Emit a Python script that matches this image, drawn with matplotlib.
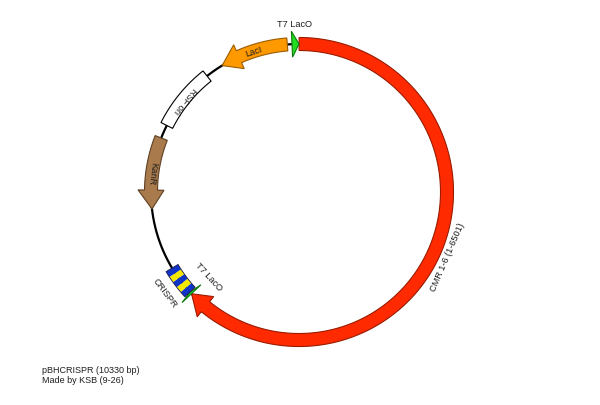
import numpy as np
import matplotlib
matplotlib.use("Agg")
import matplotlib.pyplot as plt
from matplotlib.patches import Polygon

plt.rcParams['font.family'] = ['Liberation Sans', 'DejaVu Sans']

# ---------------- data ----------------
plasmid_name = "pBHCRISPR"
plasmid_len = 10330
credit = "Made by KSB (9-26)"

feat_names  = ["CMR 1-6 (1-6501)", "T7 LacO", "CRISPR", "KanR", "RSF ori", "LacI", "T7 LacO"]
feat_start  = [1,    6502, 6527, 7558, 8514, 9432, 10252]
feat_end    = [6501, 6526, 6860, 8362, 9228, 10200, 10330]
feat_strand = [1, 1, 0, -1, 0, -1, 1]
feat_kind   = ["arrow", "arrow", "repeat", "arrow", "box", "arrow", "arrow"]
crispr_units = ["spacer", "repeat", "spacer", "repeat", "spacer"]

# ---------------- styles ----------------
feat_fill = ["#FF2A00", "#22DD22", None, "#A97A4C", "#FFFFFF", "#FF9900", "#22DD22"]
feat_edge = ["#9A1A00", "#0E7A0E", "#222222", "#5E4024", "#000000", "#9A5C00", "#0E7A0E"]
unit_color = {"spacer": "#1034C8", "repeat": "#F5E800"}
label_r   = [162, 123, 168, 148, 147, 148, 169]
label_flip = [False, False, False, False, False, True, True]

R_MID = 148.0
HALF_W = 6.5
HEAD_HW = 13.0
HEAD_LEN = 19.0

fig = plt.figure(figsize=(6.0, 4.06), dpi=100)
cx, cy_top = 299.0, 193.0
cy = 406 - cy_top
half = 180.0
ax = fig.add_axes([(cx - half) / 600, (cy - half) / 406, 2 * half / 600, 2 * half / 406],
                  projection='polar')
ax.set_theta_zero_location('N')
ax.set_theta_direction(-1)
ax.set_rlim(0, half)
ax.axis('off')


def bp2t(bp):
    return bp / plasmid_len * 2 * np.pi


def arc(t0, t1, r):
    n = max(2, int(abs(t1 - t0) / 0.004) + 2)
    th = np.linspace(t0, t1, n)
    return [(t, r) for t in th]


# backbone
tt = np.linspace(0, 2 * np.pi, 720)
ax.plot(tt, np.full_like(tt, R_MID), color='black', lw=1.6, zorder=1)

dth = HEAD_LEN / R_MID
for i, kind in enumerate(feat_kind):
    t0, t1 = bp2t(feat_start[i]), bp2t(feat_end[i])
    if kind == "arrow":
        if feat_strand[i] > 0:
            tb = t1 - dth
            if tb <= t0:
                verts = [(t0, R_MID + HEAD_HW), (t1, R_MID), (t0, R_MID - HEAD_HW)]
            else:
                verts = (arc(t0, tb, R_MID + HALF_W) +
                         [(tb, R_MID + HEAD_HW), (t1, R_MID), (tb, R_MID - HEAD_HW)] +
                         arc(tb, t0, R_MID - HALF_W))
        else:
            tb = t0 + dth
            if tb >= t1:
                verts = [(t1, R_MID + HEAD_HW), (t0, R_MID), (t1, R_MID - HEAD_HW)]
            else:
                verts = ([(t0, R_MID), (tb, R_MID + HEAD_HW)] +
                         arc(tb, t1, R_MID + HALF_W) +
                         arc(t1, tb, R_MID - HALF_W) +
                         [(tb, R_MID - HEAD_HW)])
        ax.add_patch(Polygon(verts, closed=True, facecolor=feat_fill[i],
                             edgecolor=feat_edge[i], lw=0.8, zorder=3))
    elif kind == "box":
        verts = arc(t0, t1, R_MID + HALF_W) + arc(t1, t0, R_MID - HALF_W)
        ax.add_patch(Polygon(verts, closed=True, facecolor=feat_fill[i],
                             edgecolor=feat_edge[i], lw=0.8, zorder=3))
    elif kind == "repeat":
        n = len(crispr_units)
        step = (t1 - t0) / n
        for k, u in enumerate(crispr_units):
            a0, a1 = t0 + k * step, t0 + (k + 1) * step
            verts = arc(a0, a1, R_MID + 7) + arc(a1, a0, R_MID - 7)
            ax.add_patch(Polygon(verts, closed=True, facecolor=unit_color[u],
                                 edgecolor='none', zorder=3))
        verts = arc(t0, t1, R_MID + 7) + arc(t1, t0, R_MID - 7)
        ax.add_patch(Polygon(verts, closed=True, facecolor='none',
                             edgecolor='#1a1a4a', lw=0.6, zorder=4))

# labels
for i, name in enumerate(feat_names):
    mid_bp = (feat_start[i] + feat_end[i]) / 2
    deg = mid_bp / plasmid_len * 360.0
    if label_flip[i]:
        rot = -deg
        if i == len(feat_names) - 1:
            rot = 0
    else:
        rot = 180 - deg
    ax.text(np.deg2rad(deg), label_r[i], name, rotation=rot, rotation_mode='anchor',
            ha='center', va='center', fontsize=6.6, color='#1e1e1e', zorder=6)

fig.text(41.5 / 600, (406 - 373) / 406, f"{plasmid_name} ({plasmid_len} bp)",
         fontsize=6.5, color='#1e1e1e', ha='left', va='baseline')
fig.text(41.5 / 600, (406 - 383) / 406, credit,
         fontsize=6.5, color='#1e1e1e', ha='left', va='baseline')

fig.savefig("out.png", dpi=100)
